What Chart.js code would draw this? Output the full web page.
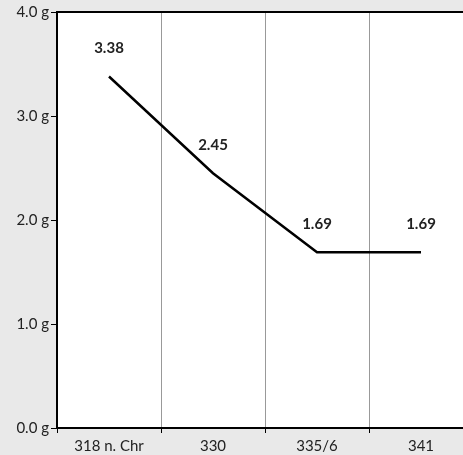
<!DOCTYPE html>
<html>
<head>
<meta charset="utf-8">
<script src="https://cdn.jsdelivr.net/npm/chart.js@4"></script>
<style>
  html, body { margin: 0; padding: 0; overflow: hidden; background: #e9e9e9; width: 463px; height: 455px; }
  canvas { display: block; position: absolute; left: 0; top: 0; }
</style>
</head>
<body>
<canvas id="myChart" width="490" height="455"></canvas>
<script>
const years = ['318 n. Chr', '330', '335/6', '341'];
const weights = [3.38, 2.45, 1.69, 1.69];
const yTicks = [0, 1, 2, 3, 4];

// white plot area + top border (plot runs past the right edge)
const plotBg = {
    id: 'plotBg',
    beforeDraw(chart) {
        const { ctx, chartArea: a } = chart;
        ctx.save();
        ctx.fillStyle = '#fff';
        ctx.fillRect(a.left, a.top, chart.width - a.left, a.bottom - a.top);
        ctx.restore();
    },
    afterDraw(chart) {
        const { ctx, chartArea: a } = chart;
        ctx.save();
        ctx.strokeStyle = '#000';
        ctx.lineWidth = 2;
        ctx.beginPath();
        ctx.moveTo(a.left, a.top);
        ctx.lineTo(chart.width, a.top);
        ctx.stroke();
        ctx.restore();
    }
};

// value labels above the points
const valueLabels = {
    id: 'valueLabels',
    afterDatasetsDraw(chart) {
        const ctx = chart.ctx;
        const meta = chart.getDatasetMeta(0);
        ctx.save();
        ctx.font = 'bold 15px Lato';
        ctx.fillStyle = '#222';
        ctx.textAlign = 'center';
        ctx.textBaseline = 'middle';
        meta.data.forEach((pt, i) => {
            ctx.fillText(weights[i].toFixed(2), pt.x, pt.y - 28);
        });
        ctx.restore();
    }
};

new Chart(document.getElementById('myChart'), {
    type: 'line',
    data: {
        labels: years,
        datasets: [{
            data: weights,
            borderColor: '#000',
            borderWidth: 2.5,
            pointRadius: 0,
            tension: 0
        }]
    },
    options: {
        responsive: false,
        animation: false,
        layout: { padding: { top: 12, right: 17 } },
        plugins: { legend: { display: false }, tooltip: { enabled: false } },
        scales: {
            x: {
                offset: true,
                afterFit: s => { s.height = 27; },
                grid: { offset: true, color: '#999', lineWidth: 1, tickColor: '#000', tickLength: 5 },
                border: { color: '#000', width: 2 },
                ticks: { color: '#222', font: { family: 'Lato', size: 15 }, padding: 4 }
            },
            y: {
                min: 0,
                max: 4,
                afterFit: s => { s.width = 57; },
                afterBuildTicks: s => { s.ticks = yTicks.map(v => ({ value: v })); },
                grid: { drawOnChartArea: false, color: '#000', tickLength: 6 },
                border: { color: '#000', width: 2 },
                ticks: {
                    color: '#222',
                    font: { family: 'Lato', size: 15 },
                    padding: 2,
                    callback: v => v.toFixed(1) + ' g'
                }
            }
        }
    },
    plugins: [plotBg, valueLabels]
});
</script>
</body>
</html>
